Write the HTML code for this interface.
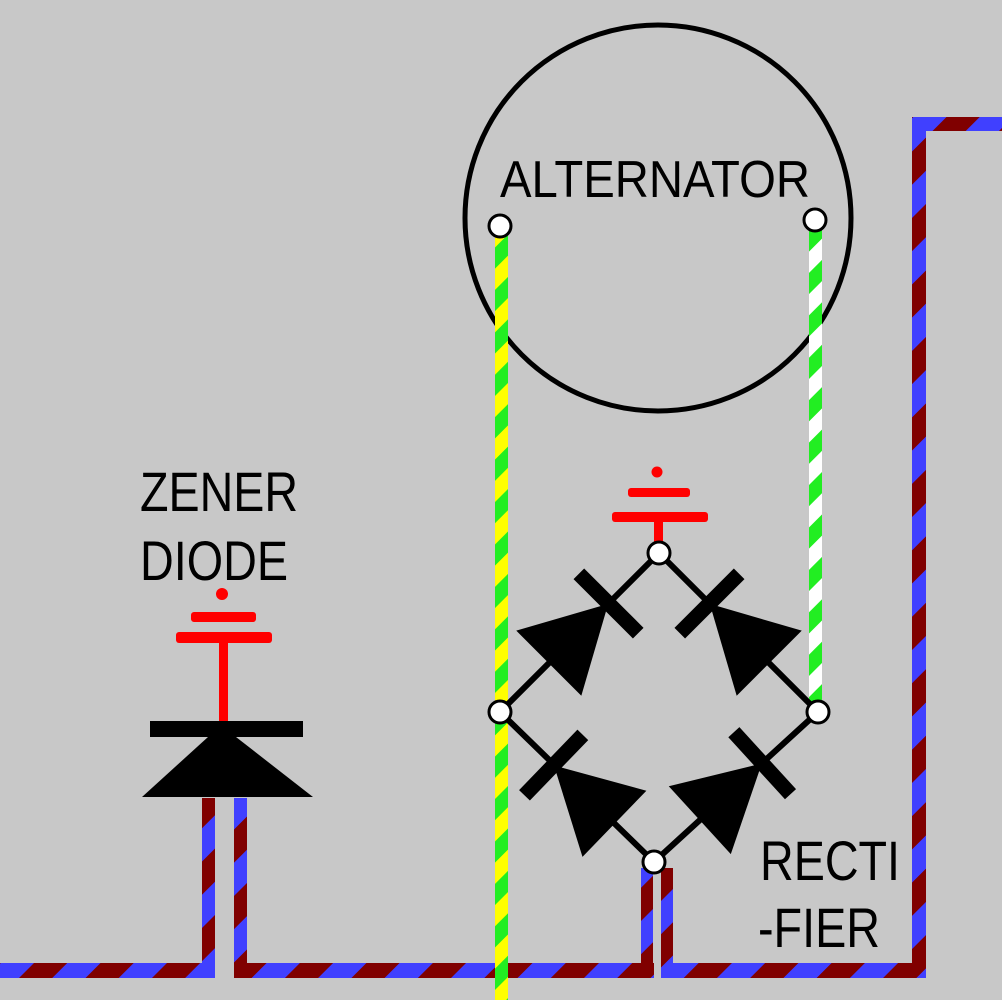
<!DOCTYPE html>
<html><head><meta charset="utf-8"><style>
html,body{margin:0;padding:0;background:#c8c8c8;}
svg{display:block;}
text{font-family:"Liberation Sans",sans-serif;fill:#000;}
</style></head><body>
<svg width="1002" height="1000" viewBox="0 0 1002 1000" xmlns="http://www.w3.org/2000/svg">
<defs>
<pattern id="rb" patternUnits="userSpaceOnUse" width="47" height="47" patternTransform="rotate(45)">
<rect x="0" y="0" width="23.5" height="47" fill="#800000"/><rect x="23.5" y="0" width="23.5" height="47" fill="#4040ff"/>
</pattern>
<pattern id="gy" patternUnits="userSpaceOnUse" width="30" height="30" patternTransform="rotate(45)">
<rect x="0" y="0" width="15" height="30" fill="#ffff00"/><rect x="15" y="0" width="15" height="30" fill="#22ee22"/>
</pattern>
<pattern id="gw" patternUnits="userSpaceOnUse" width="30" height="30" patternTransform="rotate(45)">
<rect x="0" y="0" width="15" height="30" fill="#ffffff"/><rect x="15" y="0" width="15" height="30" fill="#22ee22"/>
</pattern>
</defs>
<rect width="1002" height="1000" fill="#c8c8c8"/>

<!-- brown/blue wires -->
<rect x="0" y="963" width="215" height="15" fill="url(#rb)"/>
<rect x="202" y="798" width="13" height="180" fill="url(#rb)"/>
<rect x="234" y="798" width="13" height="180" fill="url(#rb)"/>
<rect x="234" y="963" width="420" height="15" fill="url(#rb)"/>
<rect x="641" y="868" width="12" height="110" fill="url(#rb)"/>
<rect x="661" y="868" width="12" height="110" fill="url(#rb)"/>
<rect x="661" y="963" width="265" height="15" fill="url(#rb)"/>
<rect x="912" y="117" width="14" height="861" fill="url(#rb)"/>
<rect x="912" y="117" width="90" height="14" fill="url(#rb)"/>

<!-- alternator -->
<circle cx="658" cy="218" r="193" fill="none" stroke="#000" stroke-width="5"/>
<text x="500" y="197" font-size="52" textLength="310" lengthAdjust="spacingAndGlyphs">ALTERNATOR</text>

<!-- alternator wires -->
<rect x="495" y="228" width="13" height="772" fill="url(#gy)"/>
<rect x="809" y="222" width="13" height="490" fill="url(#gw)"/>

<!-- bridge edges -->
<polyline points="500,712 659,553 818,712 654,862 500,712" fill="none" stroke="#000" stroke-width="6"/>

<g transform="translate(500,712) rotate(-45)">
<polygon points="69,-46 69,46 153,0" fill="#000"/><rect x="146" y="-42" width="15" height="84" fill="#000"/></g>
<g transform="translate(818,712) rotate(-135)">
<polygon points="69,-46 69,46 153,0" fill="#000"/><rect x="146" y="-42" width="15" height="84" fill="#000"/></g>
<g transform="translate(654,862) rotate(-136)">
<polygon points="55,-46 55,46 139,0" fill="#000"/><rect x="132" y="-42" width="15" height="84" fill="#000"/></g>
<g transform="translate(654,862) rotate(-42.4)">
<polygon points="62,-46 62,46 146,0" fill="#000"/><rect x="139" y="-42" width="15" height="84" fill="#000"/></g>

<!-- bridge ground -->
<circle cx="657" cy="472" r="5.5" fill="#f00"/>
<rect x="628" y="488" width="62" height="9" rx="3" fill="#f00"/>
<rect x="612" y="512" width="96" height="10" rx="3" fill="#f00"/>
<rect x="654" y="520" width="9" height="28" fill="#f00"/>

<!-- nodes -->
<g fill="#fff" stroke="#000" stroke-width="3">
<circle cx="500" cy="226" r="11"/>
<circle cx="815" cy="220" r="11"/>
<circle cx="659" cy="553" r="11"/>
<circle cx="500" cy="712" r="11"/>
<circle cx="818" cy="712" r="11"/>
<circle cx="654" cy="862" r="11"/>
</g>

<!-- zener -->
<text x="140" y="511" font-size="56" textLength="158" lengthAdjust="spacingAndGlyphs">ZENER</text>
<text x="140" y="580" font-size="56" textLength="148" lengthAdjust="spacingAndGlyphs">DIODE</text>
<circle cx="222" cy="594" r="6" fill="#f00"/>
<rect x="191" y="612" width="65" height="10" rx="3" fill="#f00"/>
<rect x="176" y="632" width="96" height="11" rx="3" fill="#f00"/>
<rect x="219" y="640" width="9" height="84" fill="#f00"/>
<rect x="150" y="721" width="153" height="16" fill="#000"/>
<polygon points="208,737 236,737 313,797 142,797" fill="#000"/>

<!-- rectifier label -->
<text x="760" y="880" font-size="56" textLength="140" lengthAdjust="spacingAndGlyphs">RECTI</text>
<text x="758" y="947" font-size="56" textLength="122" lengthAdjust="spacingAndGlyphs">-FIER</text>
</svg>
</body></html>
